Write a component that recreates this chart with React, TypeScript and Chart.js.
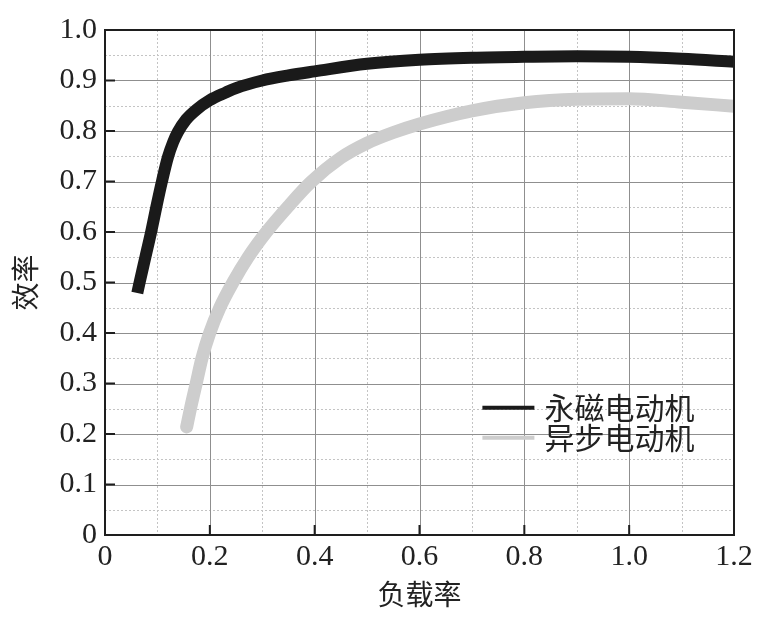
import React, { useEffect, useRef } from "react";
import { Chart, registerables } from "chart.js";

Chart.register(...registerables);

// 永磁电动机 (permanent-magnet motor) efficiency vs load rate
const pmLoad = [0.0616, 0.066, 0.077, 0.088, 0.098, 0.1086, 0.12, 0.13, 0.139, 0.155, 0.174, 0.2, 0.23, 0.25, 0.3, 0.35, 0.4, 0.5, 0.6, 0.7, 0.8, 0.9, 1.0, 1.1, 1.2];
const pmEff = [0.479, 0.5, 0.55, 0.6, 0.65, 0.7, 0.748, 0.778, 0.798, 0.823, 0.842, 0.861, 0.876, 0.885, 0.9, 0.91, 0.918, 0.933, 0.941, 0.945, 0.947, 0.948, 0.947, 0.943, 0.937];

// 异步电动机 (asynchronous motor) efficiency vs load rate
const asLoad = [0.1558, 0.163, 0.174, 0.185, 0.1997, 0.219, 0.244, 0.273, 0.308, 0.349, 0.392, 0.45, 0.5, 0.55, 0.6, 0.7, 0.8, 0.9, 1.0, 1.1, 1.2];
const asEff = [0.214, 0.25, 0.3, 0.35, 0.4, 0.45, 0.5, 0.55, 0.6, 0.65, 0.698, 0.747, 0.776, 0.797, 0.814, 0.84, 0.856, 0.863, 0.864, 0.857, 0.849];

const seriesNames = ["永磁电动机", "异步电动机"];
const xTickValues = [0, 0.2, 0.4, 0.6, 0.8, 1.0, 1.2];
const yTickValues = [0, 0.1, 0.2, 0.3, 0.4, 0.5, 0.6, 0.7, 0.8, 0.9, 1.0];
const xMinorValues = [0.1, 0.3, 0.5, 0.7, 0.9, 1.1];
const yMinorValues = [0.05, 0.15, 0.25, 0.35, 0.45, 0.55, 0.65, 0.75, 0.85, 0.95];
const xTitle = "负载率";
const yTitle = "效率";

const fmt = (v: number) => (Math.abs(v) < 1e-9 ? "0" : v.toFixed(1));
const serif = "'Liberation Serif', 'Times New Roman', serif";
const cjk = "'Noto Sans CJK SC', sans-serif";

const gridPlugin = {
  id: "customGrid",
  beforeDatasetsDraw(chart: any) {
    const { ctx, chartArea: a, scales } = chart;
    const xs = scales.x, ys = scales.y;
    ctx.save();
    // minor dotted
    ctx.strokeStyle = "#c4c4c4";
    ctx.lineWidth = 1;
    ctx.setLineDash([2, 2]);
    ctx.beginPath();
    xMinorValues.forEach((v) => {
      const p = Math.round(xs.getPixelForValue(v)) + 0.5;
      ctx.moveTo(p, a.top); ctx.lineTo(p, a.bottom);
    });
    yMinorValues.forEach((v) => {
      const p = Math.round(ys.getPixelForValue(v)) + 0.5;
      ctx.moveTo(a.left, p); ctx.lineTo(a.right, p);
    });
    ctx.stroke();
    // major solid
    ctx.setLineDash([]);
    ctx.strokeStyle = "#8f8f8f";
    ctx.beginPath();
    xTickValues.forEach((v) => {
      const p = Math.round(xs.getPixelForValue(v)) + 0.5;
      ctx.moveTo(p, a.top); ctx.lineTo(p, a.bottom);
    });
    yTickValues.forEach((v) => {
      const p = Math.round(ys.getPixelForValue(v)) + 0.5;
      ctx.moveTo(a.left, p); ctx.lineTo(a.right, p);
    });
    ctx.stroke();
    ctx.restore();
  },
  afterDatasetsDraw(chart: any) {
    const { ctx, chartArea: a, scales } = chart;
    const xs = scales.x, ys = scales.y;
    ctx.save();
    ctx.strokeStyle = "#1e1e1e";
    ctx.lineWidth = 2;
    ctx.strokeRect(a.left, a.top, a.right - a.left, a.bottom - a.top);
    ctx.beginPath();
    xTickValues.forEach((v) => {
      const p = xs.getPixelForValue(v);
      ctx.moveTo(p, a.bottom); ctx.lineTo(p, a.bottom - 10);
    });
    yTickValues.forEach((v) => {
      const p = ys.getPixelForValue(v);
      ctx.moveTo(a.left, p); ctx.lineTo(a.left + 10, p);
    });
    ctx.stroke();
    // legend
    const ds = chart.data.datasets;
    const lx = xs.getPixelForValue(0.72);
    const ly0 = ys.getPixelForValue(0.252);
    ctx.font = "30px " + cjk;
    ctx.textBaseline = "middle";
    ctx.textAlign = "left";
    ds.forEach((d: any, i: number) => {
      const y = ly0 + i * 30;
      ctx.strokeStyle = d.borderColor;
      ctx.lineWidth = 4;
      ctx.beginPath();
      ctx.moveTo(lx, y); ctx.lineTo(lx + 52, y);
      ctx.stroke();
      ctx.fillStyle = "#222";
      ctx.fillText(d.label, lx + 62, y);
    });
    ctx.restore();
  },
};

export default function App() {
  const ref = useRef<HTMLCanvasElement | null>(null);
  useEffect(() => {
    if (!ref.current) return;
    const chart = new Chart(ref.current, {
      type: "line",
      data: {
        datasets: [
          {
            label: seriesNames[0],
            data: pmLoad.map((x, i) => ({ x, y: pmEff[i] })),
            borderColor: "#1a1a1a",
            borderWidth: 12,
            borderCapStyle: "butt",
            pointRadius: 0,
            cubicInterpolationMode: "monotone",
          },
          {
            label: seriesNames[1],
            data: asLoad.map((x, i) => ({ x, y: asEff[i] })),
            borderColor: "#cdcdcd",
            borderWidth: 13,
            borderCapStyle: "round",
            pointRadius: 0,
            cubicInterpolationMode: "monotone",
          },
        ],
      },
      options: {
        animation: false,
        responsive: true,
        maintainAspectRatio: false,
        layout: { padding: { top: 30, right: 28, left: 0, bottom: 0 } },
        plugins: { legend: { display: false }, tooltip: { enabled: false } },
        scales: {
          x: {
            type: "linear",
            min: 0,
            max: 1.2,
            grid: { display: false, drawTicks: false },
            border: { display: false },
            afterBuildTicks: (s: any) => { s.ticks = xTickValues.map((v) => ({ value: v })); },
            afterFit: (s: any) => { s.height = 91; },
            ticks: {
              callback: (v: any) => fmt(Number(v)),
              font: { family: serif, size: 30 },
              color: "#222",
              padding: 4,
              maxRotation: 0,
              autoSkip: false,
            },
            title: {
              display: true,
              text: xTitle,
              font: { family: cjk, size: 28 },
              color: "#222",
              padding: { top: 0, bottom: 15 },
            },
          },
          y: {
            type: "linear",
            min: 0,
            max: 1,
            grid: { display: false, drawTicks: false },
            border: { display: false },
            afterBuildTicks: (s: any) => { s.ticks = yTickValues.map((v) => ({ value: v })); },
            afterFit: (s: any) => { s.width = 105; },
            ticks: {
              callback: (v: any) => fmt(Number(v)),
              font: { family: serif, size: 30 },
              color: "#222",
              padding: 8,
              autoSkip: false,
            },
            title: {
              display: true,
              text: yTitle,
              font: { family: cjk, size: 28 },
              color: "#222",
              padding: { top: 9, bottom: 0 },
            },
          },
        },
      },
      plugins: [gridPlugin],
    } as any);
    return () => chart.destroy();
  }, []);
  return (
    <div style={{ position: "absolute", left: 0, top: 0, width: 762, height: 626 }}>
      <canvas ref={ref} />
    </div>
  );
}
